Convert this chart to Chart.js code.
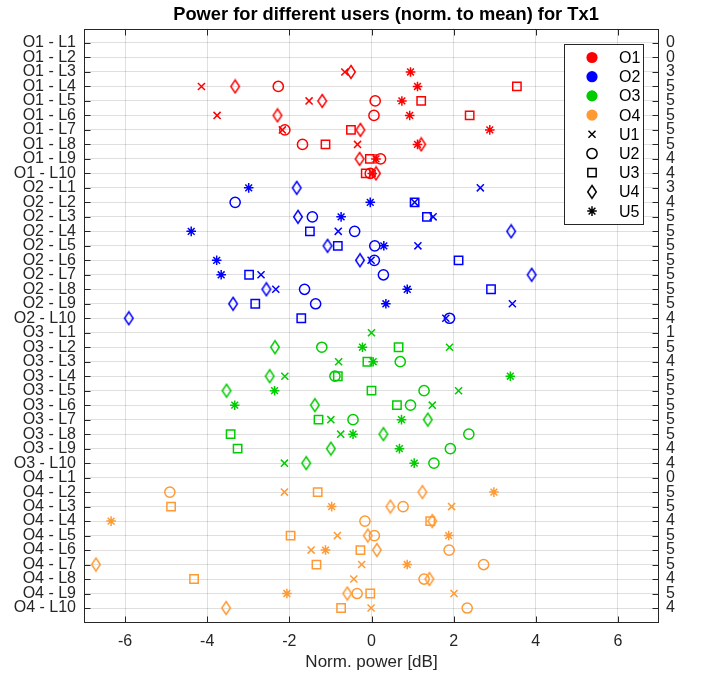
<!DOCTYPE html>
<html>
<head>
<meta charset="utf-8">
<script src="https://cdn.jsdelivr.net/npm/chart.js@4.4.1/dist/chart.umd.min.js"></script>
<style>
  html, body { margin: 0; padding: 0; background: #fff; }
  #wrap { width: 708px; height: 673px; }
</style>
</head>
<body>
<div id="wrap"><canvas id="powerChart"></canvas></div>
<script>
// categories
const OPS = ['O1', 'O2', 'O3', 'O4'];
const LINKS = ['L1', 'L2', 'L3', 'L4', 'L5', 'L6', 'L7', 'L8', 'L9', 'L10'];
const USERS = ['U1', 'U2', 'U3', 'U4', 'U5'];
const X_TICKS = [-6, -4, -2, 0, 2, 4, 6];
const TITLE = 'Power for different users (norm. to mean) for Tx1';
// right axis: how many users were measured on each row
const ROW_COUNTS = [0, 0, 3, 5, 5, 5, 5, 5, 4, 4,
                    3, 4, 5, 5, 5, 5, 5, 5, 5, 4,
                    1, 5, 4, 5, 5, 5, 5, 5, 4, 4,
                    0, 5, 5, 4, 5, 5, 5, 4, 5, 4];

// norm. power in dB per user, one value per row (O1-L1 ... O4-L10), null = not measured
const u1 = [null, null, -0.65, -4.14, -1.52, -3.76, -2.17, -0.34, null, null,
            2.65, 1.05, 1.50, -0.81, 1.13, -0.01, -2.69, -2.33, 3.43, 1.81,
            0.00, 1.90, -0.80, -2.11, 2.12, 1.48, -0.99, -0.75, null, -2.12,
            null, -2.12, 1.95, null, -0.83, -1.47, -0.24, -0.43, 2.01, -0.01];
const u2 = [null, null, null, -2.27, 0.09, 0.06, -2.11, -1.68, 0.22, -0.03,
            null, -3.32, -1.44, -0.41, 0.08, 0.07, 0.29, -1.63, -1.36, 1.90,
            null, -1.21, 0.70, -0.89, 1.28, 0.95, -0.45, 2.37, 1.92, 1.52,
            null, -4.91, 0.77, -0.16, 0.07, 1.89, 2.73, 1.28, -0.35, 2.33];
const u3 = [null, null, null, 3.54, 1.21, 2.39, -0.50, -1.12, -0.04, -0.14,
            null, 1.05, 1.35, -1.50, -0.82, 2.12, -2.98, 2.91, -2.83, -1.71,
            null, 0.66, -0.10, -0.82, 0.00, 0.62, -1.29, -3.43, -3.26, null,
            null, -1.31, -4.88, 1.43, -1.97, -0.27, -1.34, -4.32, -0.03, -0.74];
const u4 = [null, null, -0.50, -3.32, -1.20, -2.29, -0.27, 1.21, -0.29, 0.11,
            -1.82, null, -1.79, 3.40, -1.07, -0.28, 3.90, -2.56, -3.37, -5.91,
            null, -2.35, null, -2.48, -3.53, -1.38, 1.37, 0.29, -0.99, -1.59,
            null, 1.24, 0.46, 1.48, -0.09, 0.13, -6.71, 1.41, -0.59, -3.54];
const u5 = [null, null, 0.95, 1.12, 0.74, 0.93, 2.88, 1.12, 0.11, 0.02,
            -2.99, -0.03, -0.74, -4.39, 0.30, -3.77, -3.66, 0.87, 0.35, null,
            null, -0.22, 0.04, 3.38, -2.36, -3.33, 0.73, -0.45, 0.68, 1.04,
            null, 2.98, -0.97, -6.34, 1.88, -1.12, 0.87, null, -2.06, null];
const USER_DATA = [u1, u2, u3, u4, u5];

const ROW_LABELS = [];
OPS.forEach(o => LINKS.forEach(l => ROW_LABELS.push(o + ' - ' + l)));

const OP_COLORS = ['#ff0000', '#0000ff', '#00cc00', '#ff9933'];
const FONT = 'Liberation Sans, Arial, Helvetica, sans-serif';
const AXIS_COLOR = '#262626';
const GRID_COLOR = 'rgba(38,38,38,0.15)';
const LW = 1.5;

// MATLAB style diamond is taller than wide, so build it as an image
function diamond(color) {
    const c = document.createElement('canvas');
    c.width = 12; c.height = 16;
    const g = c.getContext('2d');
    g.strokeStyle = color;
    g.lineWidth = LW;
    g.beginPath();
    g.moveTo(6, 1.5); g.lineTo(10.3, 8); g.lineTo(6, 14.5); g.lineTo(1.7, 8);
    g.closePath();
    g.stroke();
    return c;
}

function markerFor(ui, color) {
    switch (ui) {
        case 0: return { pointStyle: 'crossRot', pointRadius: 5 };
        case 1: return { pointStyle: 'circle', pointRadius: 5.1 };
        case 2: return { pointStyle: 'rect', pointRadius: 5.9 };
        case 3: return { pointStyle: diamond(color), pointRadius: 6 };
        default: return { pointStyle: 'star', pointRadius: 4.8 };
    }
}

const datasets = [];
OPS.forEach((op, oi) => {
    USERS.forEach((u, ui) => {
        const pts = [];
        LINKS.forEach((l, li) => {
            const v = USER_DATA[ui][oi * LINKS.length + li];
            if (v !== null) pts.push({ x: v, y: oi * LINKS.length + li + 1 });
        });
        datasets.push(Object.assign({
            label: op + ' ' + u,
            data: pts,
            borderColor: OP_COLORS[oi],
            backgroundColor: 'rgba(0,0,0,0)',
            pointBorderWidth: LW,
            showLine: false
        }, markerFor(ui, OP_COLORS[oi])));
    });
});

// box round the axes, the short inward ticks and the title
const framePlugin = {
    id: 'frame',
    afterDatasetsDraw(chart) {
        const { ctx, chartArea: a, scales } = chart;
        const T = 6;
        const L = Math.round(a.left) + 0.5, R = Math.round(a.right) - 0.5;
        const Tp = Math.round(a.top) + 0.5, B = Math.round(a.bottom) - 0.5;
        ctx.save();
        ctx.strokeStyle = AXIS_COLOR;
        ctx.lineWidth = 1;
        ctx.beginPath();
        X_TICKS.forEach(v => {
            const px = Math.round(scales.x.getPixelForValue(v)) + 0.5;
            ctx.moveTo(px, B); ctx.lineTo(px, B - T);
            ctx.moveTo(px, Tp); ctx.lineTo(px, Tp + T);
        });
        ROW_LABELS.forEach((_, i) => {
            const py = Math.round(scales.y.getPixelForValue(i + 1)) + 0.5;
            ctx.moveTo(L, py); ctx.lineTo(L + T, py);
            ctx.moveTo(R, py); ctx.lineTo(R - T, py);
        });
        ctx.stroke();
        ctx.strokeRect(L, Tp, R - L, B - Tp);

        // title sits a little right of the axes centre, as in the source figure
        ctx.fillStyle = '#000';
        ctx.font = 'bold 18.3px ' + FONT;
        ctx.textAlign = 'center';
        ctx.textBaseline = 'middle';
        ctx.fillText(TITLE, 386, 15);
        ctx.restore();
    }
};

// legend box inside the axes, top right
const legendPlugin = {
    id: 'boxLegend',
    afterDraw(chart) {
        const ctx = chart.ctx;
        const bx = 564.5, by = 44.5, bw = 79, bh = 180;
        const mx = 592, tx = 619, y0 = 57.5, step = 19.2;
        ctx.save();
        ctx.fillStyle = '#fff';
        ctx.fillRect(bx, by, bw, bh);
        ctx.strokeStyle = AXIS_COLOR;
        ctx.lineWidth = 1;
        ctx.strokeRect(bx, by, bw, bh);
        ctx.font = '16px ' + FONT;
        ctx.textBaseline = 'middle';
        ctx.textAlign = 'left';
        OPS.forEach((op, i) => {
            const y = y0 + i * step;
            ctx.fillStyle = OP_COLORS[i];
            ctx.beginPath();
            ctx.arc(mx, y, 5.6, 0, Math.PI * 2);
            ctx.fill();
            ctx.fillStyle = '#000';
            ctx.fillText(op, tx, y + 1);
        });
        USERS.forEach((u, i) => {
            const y = y0 + (OPS.length + i) * step;
            const m = markerFor(i, '#000');
            ctx.strokeStyle = '#000';
            ctx.fillStyle = 'rgba(0,0,0,0)';
            ctx.lineWidth = LW;
            Chart.helpers.drawPoint(ctx, {
                pointStyle: m.pointStyle, radius: m.pointRadius, borderWidth: LW, rotation: 0
            }, mx, y);
            ctx.fillStyle = '#000';
            ctx.fillText(u, tx, y + 1);
        });
        ctx.restore();
    }
};

const tickFont = { family: FONT, size: 16 };

new Chart(document.getElementById('powerChart'), {
    type: 'scatter',
    data: { datasets: datasets },
    options: {
        responsive: true,
        maintainAspectRatio: false,
        animation: false,
        layout: { padding: { top: 28.5 } },
        plugins: {
            legend: { display: false },
            tooltip: { enabled: false },
            title: { display: false }
        },
        scales: {
            x: {
                type: 'linear',
                min: -7, max: 7,
                afterBuildTicks: s => { s.ticks = X_TICKS.map(v => ({ value: v })); },
                grid: { color: GRID_COLOR, drawTicks: false },
                border: { display: false },
                ticks: { font: tickFont, color: AXIS_COLOR, padding: 9, maxRotation: 0 },
                title: {
                    display: true, text: 'Norm. power [dB]', color: AXIS_COLOR,
                    font: { family: FONT, size: 17 }, padding: { top: 0, bottom: 0 }
                },
                afterFit: s => { s.height = 50.5; }
            },
            y: {
                type: 'linear',
                position: 'left',
                min: 0, max: 41,
                reverse: true,
                afterBuildTicks: s => { s.ticks = ROW_LABELS.map((_, i) => ({ value: i + 1 })); },
                grid: { color: GRID_COLOR, drawTicks: false },
                border: { display: false },
                ticks: {
                    font: tickFont, color: AXIS_COLOR, padding: 8, autoSkip: false,
                    callback: v => ROW_LABELS[v - 1]
                },
                afterFit: s => { s.width = 84; }
            },
            y2: {
                type: 'linear',
                position: 'right',
                min: 0, max: 41,
                reverse: true,
                afterBuildTicks: s => { s.ticks = ROW_COUNTS.map((_, i) => ({ value: i + 1 })); },
                grid: { drawOnChartArea: false, drawTicks: false },
                border: { display: false },
                ticks: {
                    font: tickFont, color: AXIS_COLOR, padding: 7, autoSkip: false,
                    callback: v => String(ROW_COUNTS[v - 1])
                },
                afterFit: s => { s.width = 49; }
            }
        }
    },
    plugins: [framePlugin, legendPlugin]
});
</script>
</body>
</html>
